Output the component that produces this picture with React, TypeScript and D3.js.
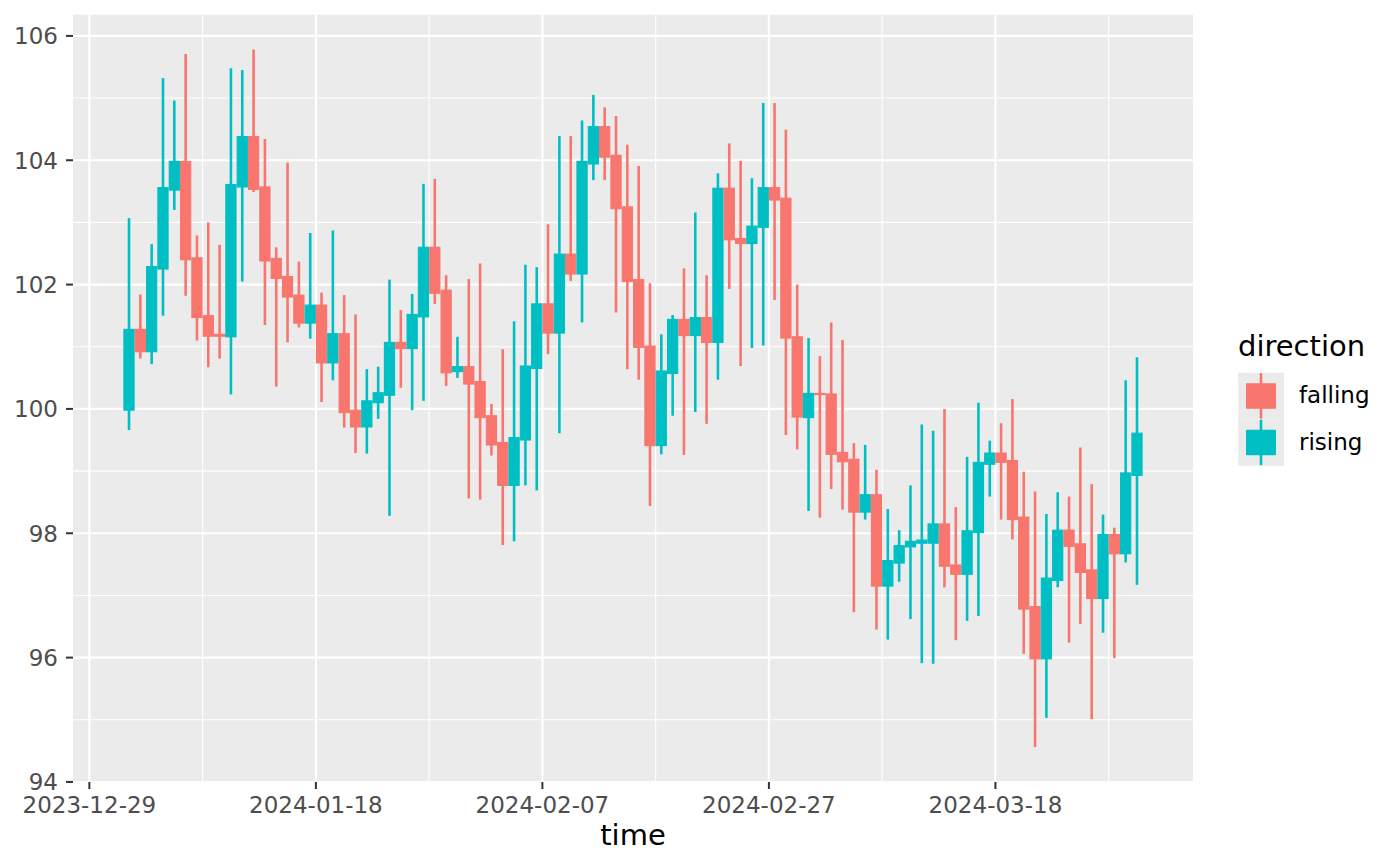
import React from 'react'
import * as d3 from 'd3'

// daily candles, first one on 2024-01-01
const startDay = '2024-01-01'

const openValues = [
  99.98, 101.28, 100.92, 102.25, 103.52, 103.98, 102.43, 101.5, 101.2, 101.16,
  103.57, 104.38, 103.57, 102.42, 102.13, 101.83, 101.38, 101.67, 100.74, 101.21,
  99.98, 99.71, 100.1, 100.22, 101.07, 100.97, 101.48, 102.6, 101.91, 100.6,
  100.68, 100.44, 99.89, 99.46, 98.77, 99.5, 100.65, 101.69, 101.22, 102.49,
  102.17, 103.94, 104.54, 104.08, 103.25, 102.08, 101.01, 99.41, 100.57, 101.44,
  101.18, 101.47, 101.07, 103.55, 102.74, 102.66, 102.92, 103.56, 103.39, 101.16,
  99.86, 100.25, 100.24, 99.3, 99.19, 98.34, 98.62, 97.15, 97.52, 97.78,
  97.84, 97.84, 98.15, 97.49, 97.34, 98.01, 99.11, 99.29, 99.17, 98.26,
  96.82, 95.98, 97.24, 98.05, 97.83, 97.41, 96.95, 97.98, 97.67, 98.93,
]

const closeValues = [
  101.28, 100.92, 102.29, 103.56, 103.98, 102.4, 101.47, 101.17, 101.17, 103.61,
  104.38, 103.53, 102.38, 102.1, 101.8, 101.38, 101.67, 100.74, 101.21, 99.94,
  99.71, 100.13, 100.26, 101.07, 100.97, 101.52, 102.6, 101.86, 100.58, 100.68,
  100.4, 99.86, 99.42, 98.77, 99.54, 100.69, 101.69, 101.22, 102.49, 102.17,
  103.98, 104.54, 104.05, 103.22, 102.05, 100.99, 99.41, 100.61, 101.44, 101.18,
  101.47, 101.07, 103.55, 102.72, 102.66, 102.94, 103.56, 103.36, 101.14, 99.87,
  100.25, 100.23, 99.27, 99.15, 98.34, 98.62, 97.15, 97.56, 97.8, 97.87,
  97.89, 98.15, 97.47, 97.34, 98.04, 99.14, 99.29, 99.14, 98.22, 96.78,
  95.98, 97.28, 98.05, 97.79, 97.37, 96.95, 97.98, 97.67, 98.97, 99.61,
]

const highValues = [
  103.07, 101.84, 102.65, 105.32, 104.96, 105.71, 102.79, 103.0, 102.64, 105.48,
  105.45, 105.78, 104.34, 102.6, 103.96, 102.37, 102.83, 101.87, 102.87, 101.83,
  101.52, 100.64, 100.68, 102.08, 101.59, 101.85, 103.62, 103.7, 102.15, 101.16,
  102.09, 102.34, 100.08, 100.96, 101.41, 102.32, 102.28, 102.97, 104.39, 104.39,
  104.64, 105.05, 104.85, 104.71, 104.25, 103.91, 102.02, 101.2, 101.51, 102.26,
  103.16, 102.15, 103.79, 104.27, 103.99, 103.71, 104.92, 104.92, 104.49, 102.0,
  101.14, 100.85, 101.39, 101.11, 99.45, 99.42, 99.02, 98.39, 98.05, 98.77,
  99.75, 99.65, 100.0, 98.42, 99.23, 100.1, 99.49, 99.77, 100.16, 98.99,
  98.67, 98.31, 98.66, 98.59, 99.38, 98.79, 98.3, 98.09, 100.46, 100.83,
]

const lowValues = [
  99.66, 100.81, 100.72, 101.5, 103.2, 101.82, 101.1, 100.67, 100.81, 100.23,
  102.05, 103.49, 101.35, 100.36, 101.07, 101.31, 101.13, 100.11, 100.46, 99.7,
  99.29, 99.28, 99.84, 98.28, 100.34, 99.98, 100.13, 101.69, 100.37, 100.5,
  98.56, 98.54, 99.25, 97.81, 97.87, 98.77, 98.69, 100.88, 99.61, 102.06,
  101.39, 103.68, 103.68, 101.55, 100.64, 100.47, 98.44, 99.27, 99.89, 99.26,
  99.95, 99.76, 100.47, 101.93, 100.69, 100.98, 101.02, 101.75, 99.58, 99.35,
  98.36, 98.25, 98.71, 98.38, 96.73, 98.22, 96.45, 96.29, 97.22, 96.62,
  95.91, 95.9, 97.13, 96.28, 96.59, 96.67, 98.59, 98.22, 97.9, 96.06,
  94.56, 95.03, 97.13, 96.24, 96.54, 95.01, 96.4, 95.99, 97.53, 97.17,
]

const yTicks = [94, 96, 98, 100, 102, 104, 106]
const xTickDays = ['2023-12-29', '2024-01-18', '2024-02-07', '2024-02-27', '2024-03-18']
const directions = ['falling', 'rising']
const directionColors = ['#F8766D', '#00BFC4']

interface Candle {
  date: Date
  open: number
  close: number
  high: number
  low: number
  direction: string
}

const WIDTH = 1400
const HEIGHT = 866
const panel = { left: 73, right: 1193, top: 14.7, bottom: 782 }
const DAY = 24 * 3600 * 1000
const barWidthDays = 0.9
const font = 'DejaVu Sans, Verdana, sans-serif'

const start = new Date(startDay + 'T12:00:00Z')
const candles: Candle[] = openValues.map((o, i) => ({
  date: d3.utcDay.offset(start, i),
  open: o,
  close: closeValues[i],
  high: highValues[i],
  low: lowValues[i],
  direction: closeValues[i] >= o ? 'rising' : 'falling',
}))

const color = d3.scaleOrdinal<string, string>().domain(directions).range(directionColors)

const expand = (lo: number, hi: number): [number, number] => {
  const pad = (hi - lo) * 0.05
  return [lo - pad, hi + pad]
}

const App = () => {
  const halfBar = (barWidthDays / 2) * DAY
  const tMin = +candles[0].date - halfBar
  const tMax = +candles[candles.length - 1].date + halfBar
  const [t0, t1] = expand(tMin, tMax)
  const xScale = d3
    .scaleUtc()
    .domain([new Date(t0), new Date(t1)])
    .range([panel.left, panel.right])

  const [v0, v1] = expand(d3.min(lowValues) as number, d3.max(highValues) as number)
  const yScale = d3.scaleLinear().domain([v0, v1]).range([panel.bottom, panel.top])

  const xMajor = xTickDays.map((d) => new Date(d + 'T00:00:00Z'))
  const xMinor = xMajor
    .map((d) => d3.utcDay.offset(d, 10))
    .filter((d) => +d > t0 && +d < t1)
  const yMinor = yTicks.slice(1).map((v) => v - 1)

  const bw = xScale(new Date(DAY * barWidthDays)) - xScale(new Date(0))

  const legendX = 1238
  const keyTop = 372.7
  const keyH = 46.5
  const keyW = 46

  return (
    <svg
      width={WIDTH}
      height={HEIGHT}
      style={{ position: 'absolute', left: 0, top: 0, background: '#fff' }}
      fontFamily={font}
    >
      <rect
        x={panel.left}
        y={panel.top}
        width={panel.right - panel.left}
        height={panel.bottom - panel.top}
        fill="#EBEBEB"
      />
      {/* minor grid */}
      {yMinor.map((v) => (
        <line key={'ym' + v} x1={panel.left} x2={panel.right} y1={yScale(v)} y2={yScale(v)} stroke="#fff" strokeWidth={1.1} />
      ))}
      {xMinor.map((d) => (
        <line key={'xm' + +d} x1={xScale(d)} x2={xScale(d)} y1={panel.top} y2={panel.bottom} stroke="#fff" strokeWidth={1.1} />
      ))}
      {/* major grid */}
      {yTicks.map((v) => (
        <line key={'y' + v} x1={panel.left} x2={panel.right} y1={yScale(v)} y2={yScale(v)} stroke="#fff" strokeWidth={2.1} />
      ))}
      {xMajor.map((d) => (
        <line key={'x' + +d} x1={xScale(d)} x2={xScale(d)} y1={panel.top} y2={panel.bottom} stroke="#fff" strokeWidth={2.1} />
      ))}

      {/* wicks */}
      {candles.map((c, i) => (
        <line
          key={'w' + i}
          x1={xScale(c.date)}
          x2={xScale(c.date)}
          y1={yScale(c.high)}
          y2={yScale(c.low)}
          stroke={color(c.direction)}
          strokeWidth={2.6}
        />
      ))}
      {/* bodies */}
      {candles.map((c, i) => {
        const top = yScale(Math.max(c.open, c.close))
        const bottom = yScale(Math.min(c.open, c.close))
        return (
          <rect
            key={'b' + i}
            x={xScale(c.date) - bw / 2}
            y={top}
            width={bw}
            height={bottom - top}
            fill={color(c.direction)}
            stroke={color(c.direction)}
            strokeWidth={1.1}
          />
        )
      })}

      {/* y axis */}
      {yTicks.map((v) => (
        <g key={'yt' + v} transform={`translate(0, ${yScale(v)})`}>
          <line x1={panel.left - 7} x2={panel.left} stroke="#333333" strokeWidth={2} />
          <text x={panel.left - 15} dy="0.36em" textAnchor="end" fontSize={23} fill="#4D4D4D">
            {v}
          </text>
        </g>
      ))}
      {/* x axis */}
      {xMajor.map((d) => (
        <g key={'xt' + +d} transform={`translate(${xScale(d)}, 0)`}>
          <line y1={panel.bottom} y2={panel.bottom + 7} stroke="#333333" strokeWidth={2} />
          <text y={813} textAnchor="middle" fontSize={23} fill="#4D4D4D">
            {d3.utcFormat('%Y-%m-%d')(d)}
          </text>
        </g>
      ))}
      <text x={(panel.left + panel.right) / 2} y={845} textAnchor="middle" fontSize={29} fill="#000">
        time
      </text>

      {/* legend */}
      <text x={legendX} y={355.5} fontSize={29} fill="#000">
        direction
      </text>
      {directions.map((dir, i) => {
        const y0 = keyTop + i * keyH
        const cx = legendX + keyW / 2
        return (
          <g key={dir}>
            <rect x={legendX} y={y0} width={keyW} height={keyH} fill="#EBEBEB" />
            <line x1={cx} x2={cx} y1={y0 + 0.5} y2={y0 + keyH - 0.5} stroke={color(dir)} strokeWidth={2.6} />
            <rect x={legendX + 8} y={y0 + 10.5} width={keyW - 16} height={keyH - 21} fill={color(dir)} rx={1} />
            <text x={1299} y={y0 + 30.5} fontSize={23} fill="#000">
              {dir}
            </text>
          </g>
        )
      })}
    </svg>
  )
}

export default App
